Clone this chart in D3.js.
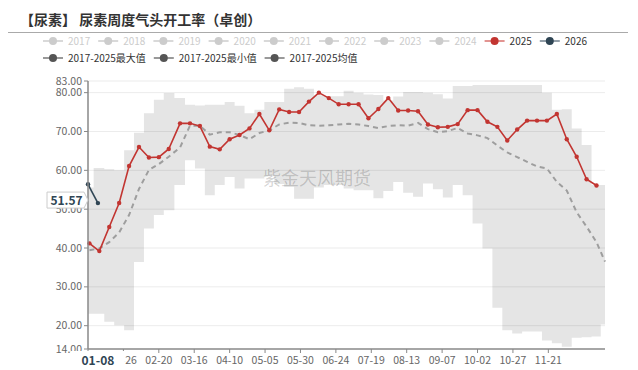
<!DOCTYPE html>
<html><head><meta charset="utf-8">
<script src="https://cdn.jsdelivr.net/npm/d3@7"></script>
<style>html,body{margin:0;padding:0;background:#fff;} svg{display:block;font-family:"Noto Sans CJK SC","Noto Sans",sans-serif;}</style>
</head><body><svg id="c" width="638" height="370"></svg>
<script>
// ---------- data ----------
const categories = d3.timeDay.range(new Date(2024,0,1), new Date(2025,0,1)).map(d3.timeFormat("%m-%d"));
const xTickLabels = ["01-01","01-26","02-20","03-16","04-10","05-05","05-30","06-24","07-19","08-13","09-07","10-02","10-27","11-21"];
const yTicks = [14,20,30,40,50,60,70,80,83];

const dates2025 = ["01-02","01-09","01-16","01-23","01-30","02-06","02-13","02-20","02-27","03-06","03-13","03-20","03-27","04-03","04-10","04-17","04-24","05-01","05-08","05-15","05-22","05-29","06-05","06-12","06-19","06-26","07-03","07-10","07-17","07-24","07-31","08-07","08-14","08-21","08-28","09-04","09-11","09-18","09-25","10-02","10-09","10-16","10-23","10-30","11-06","11-13","11-20","11-27","12-04","12-11","12-18","12-25"];
const values2025 = [41.2,39.2,45.4,51.6,61.1,66.0,63.3,63.4,65.5,72.1,72.1,71.4,66.1,65.4,68.0,69.1,70.8,74.5,70.3,75.7,75.0,75.0,77.7,80.0,78.6,77.0,77.0,77.0,73.4,75.8,78.6,75.4,75.4,75.2,71.8,71.1,71.2,71.9,75.5,75.5,72.5,71.2,67.7,70.5,72.8,72.8,72.8,74.5,68.0,63.5,57.7,56.1];

const dates2026 = ["01-01","01-08"];
const values2026 = [56.4,51.57];

const bandDates = ["01-01","01-09","01-16","01-23","01-30","02-06","02-13","02-20","02-27","03-06","03-13","03-20","03-27","04-03","04-10","04-17","04-24","05-01","05-08","05-15","05-22","05-29","06-05","06-12","06-19","06-26","07-03","07-10","07-17","07-24","07-31","08-07","08-14","08-21","08-28","09-04","09-11","09-18","09-25","10-02","10-09","10-16","10-23","10-30","11-06","11-13","11-20","11-27","12-04","12-11","12-18","12-25","12-31"];
const maxValues = [55.6,60.6,60.3,60.0,65.2,69.7,74.7,78.2,79.9,78.6,76.9,76.7,76.9,76.9,77.6,76.6,74.7,75.6,77.6,77.6,81.0,81.4,81.0,79.3,79.1,79.1,80.5,80.0,79.5,79.4,78.0,79.0,80.2,80.2,80.0,79.6,78.5,81.7,81.7,82.0,82.0,82.0,82.0,82.0,82.0,82.0,80.0,75.6,75.7,70.8,66.5,56.2,56.2];
const minValues = [23.1,23.1,21.0,20.1,18.8,36.4,45.0,48.5,49.7,56.2,62.6,60.5,53.6,56.2,58.3,55.3,57.9,57.9,58.5,56.5,55.8,52.7,52.7,55.6,56.2,56.2,55.3,54.9,54.9,52.8,54.7,57.0,54.2,53.2,56.6,55.1,53.0,56.2,53.6,46.3,39.9,24.6,18.8,18.0,18.5,18.5,16.2,15.5,14.6,16.9,17.0,17.2,20.3];

const avgDates = dates2025.concat(["12-31"]);
const avgValues = [39.4,39.9,41.5,44.0,48.5,55.2,60.1,61.6,63.5,65.9,71.5,71.5,69.2,69.8,69.8,69.1,68.0,69.6,70.3,71.8,72.3,72.2,71.6,71.5,71.6,71.8,72.0,71.8,71.4,70.9,71.4,71.6,71.5,72.2,70.6,69.8,70.1,70.9,69.5,69.0,68.3,66.4,64.6,63.4,62.2,61.0,60.5,57.0,54.8,49.2,45.5,41.5,36.5];

const legendRow1 = ["2017","2018","2019","2020","2021","2022","2023","2024","2025","2026"];
const legendRow2 = ["2017-2025最大值","2017-2025最小值","2017-2025均值"];
const pointerCategory = "01-08";
const pointerValue = 51.57;
const titleText = "【尿素】 尿素周度气头开工率（卓创）";
const watermark = "紫金天风期货";

// ---------- styles ----------
const C2025 = "#c23531", C2026 = "#2f4554";
const seriesColor = {"2025": C2025, "2026": C2026};

// ---------- layout ----------
const svg = d3.select("#c");
const m = {left: 88, right: 605, top: 81, bottom: 349};
const x = d3.scalePoint().domain(categories).range([m.left, m.right]);
const y = d3.scaleLinear().domain([14, 83]).range([m.bottom, m.top]);

// title
svg.append("text").attr("x", 20).attr("y", 25).attr("font-size", 14).attr("font-weight", "bold")
  .attr("fill", "#333").text(titleText);
svg.append("line").attr("x1", 8).attr("x2", 628).attr("y1", 32.5).attr("y2", 32.5)
  .attr("stroke", "#aaa").attr("stroke-width", 1);

// legend
function legendRow(items, yy, colorFn, textFn, step) {
  let cx = 43;
  items.forEach(name => {
    const g = svg.append("g");
    const col = colorFn(name);
    g.append("line").attr("x1", cx).attr("x2", cx + 20).attr("y1", yy).attr("y2", yy)
      .attr("stroke", col.line).attr("stroke-width", 1.5);
    g.append("circle").attr("cx", cx + 10).attr("cy", yy).attr("r", 4).attr("fill", col.dot);
    const t = g.append("text").attr("x", cx + 25).attr("y", yy + 3.6).attr("font-size", 10)
      .attr("fill", textFn(name)).text(name);
    cx = cx + step;
  });
}
legendRow(legendRow1, 41, n => seriesColor[n] ? {line: n === "2026" ? "#6f7f8c" : "#d9706d", dot: seriesColor[n]} : {line: "#ccc", dot: "#ccc"},
  n => seriesColor[n] ? "#333" : "#ccc", 55.2);
legendRow(legendRow2, 58, n => ({line: "#777", dot: "#555"}), n => "#333", 110.8);

// band (max/min)
const bandData = bandDates.map((d, i) => ({d, hi: maxValues[i], lo: minValues[i]}));
svg.append("path").datum(bandData)
  .attr("d", d3.area().curve(d3.curveStep).x(p => x(p.d)).y0(p => y(p.lo)).y1(p => y(p.hi)))
  .attr("fill", "#e5e5e5");

// grid
svg.append("g").selectAll("line").data(yTicks.filter(v => v > 14)).join("line")
  .attr("x1", m.left).attr("x2", m.right).attr("y1", v => y(v)).attr("y2", v => y(v))
  .attr("stroke", "rgba(0,0,0,0.08)").attr("stroke-width", 1);

// watermark
svg.append("text").attr("x", 317).attr("y", 185).attr("text-anchor", "middle").attr("font-size", 18)
  .attr("fill", "rgba(0,0,0,0.18)").text(watermark);

// avg dashed
svg.append("path").datum(avgDates.map((d, i) => ({d, v: avgValues[i]})))
  .attr("d", d3.line().x(p => x(p.d)).y(p => y(p.v)))
  .attr("fill", "none").attr("stroke", "#9e9e9e").attr("stroke-width", 2).attr("stroke-dasharray", "5,4");

// series lines
function series(dates, vals, col) {
  const data = dates.map((d, i) => ({d, v: vals[i]}));
  svg.append("path").datum(data).attr("d", d3.line().x(p => x(p.d)).y(p => y(p.v)))
    .attr("fill", "none").attr("stroke", col).attr("stroke-width", 1.6);
  svg.append("g").selectAll("circle").data(data).join("circle")
    .attr("cx", p => x(p.d)).attr("cy", p => y(p.v)).attr("r", 2.2).attr("fill", col);
}
series(dates2025, values2025, C2025);
series(dates2026, values2026, C2026);

// axes
const axisCol = "#888";
svg.append("line").attr("x1", m.left).attr("x2", m.left).attr("y1", m.top).attr("y2", m.bottom)
  .attr("stroke", axisCol).attr("stroke-width", 1.5);
svg.append("line").attr("x1", m.left).attr("x2", m.right).attr("y1", m.bottom).attr("y2", m.bottom)
  .attr("stroke", axisCol).attr("stroke-width", 1.5);
const yg = svg.append("g");
yTicks.forEach(v => {
  yg.append("line").attr("x1", m.left - 4).attr("x2", m.left).attr("y1", y(v)).attr("y2", y(v)).attr("stroke", axisCol);
  yg.append("text").attr("x", m.left - 6).attr("y", y(v) + 3.6).attr("text-anchor", "end")
    .attr("font-size", 10.5).attr("fill", "#666").text(v.toFixed(2));
});
const xg = svg.append("g");
const px = x(pointerCategory);
xTickLabels.forEach(c => {
  xg.append("line").attr("x1", x(c)).attr("x2", x(c)).attr("y1", m.bottom).attr("y2", m.bottom + 4).attr("stroke", axisCol);
  // labels hidden under the pointer label are not drawn
  if (Math.abs(x(c) - px) > 20) {
    xg.append("text").attr("x", x(c)).attr("y", m.bottom + 15).attr("text-anchor", "middle")
      .attr("font-size", 10.5).attr("fill", "#666").text(c);
  }
});

// axis pointer labels
svg.append("rect").attr("x", px - 27).attr("y", m.bottom + 2).attr("width", 54).attr("height", 18).attr("fill", "#fff");
svg.append("text").attr("x", px).attr("y", m.bottom + 16).attr("text-anchor", "middle").attr("font-size", 12)
  .attr("font-weight", "bold").attr("fill", C2026).text(pointerCategory);

const py = y(pointerValue) - 3;
const bx0 = 47, bx1 = 84;
svg.append("path").attr("d", `M${bx0},${py-8}H${bx1}L${bx1+4},${py}L${bx1},${py+8}H${bx0}Z`)
  .attr("fill", "#fff").attr("stroke", "#ccc").attr("stroke-width", 1);
svg.append("text").attr("x", (bx0 + bx1) / 2 + 1).attr("y", py + 4.5).attr("text-anchor", "middle").attr("font-size", 12)
  .attr("font-weight", "bold").attr("fill", C2026).text(pointerValue.toFixed(2));
</script>
</body></html>
